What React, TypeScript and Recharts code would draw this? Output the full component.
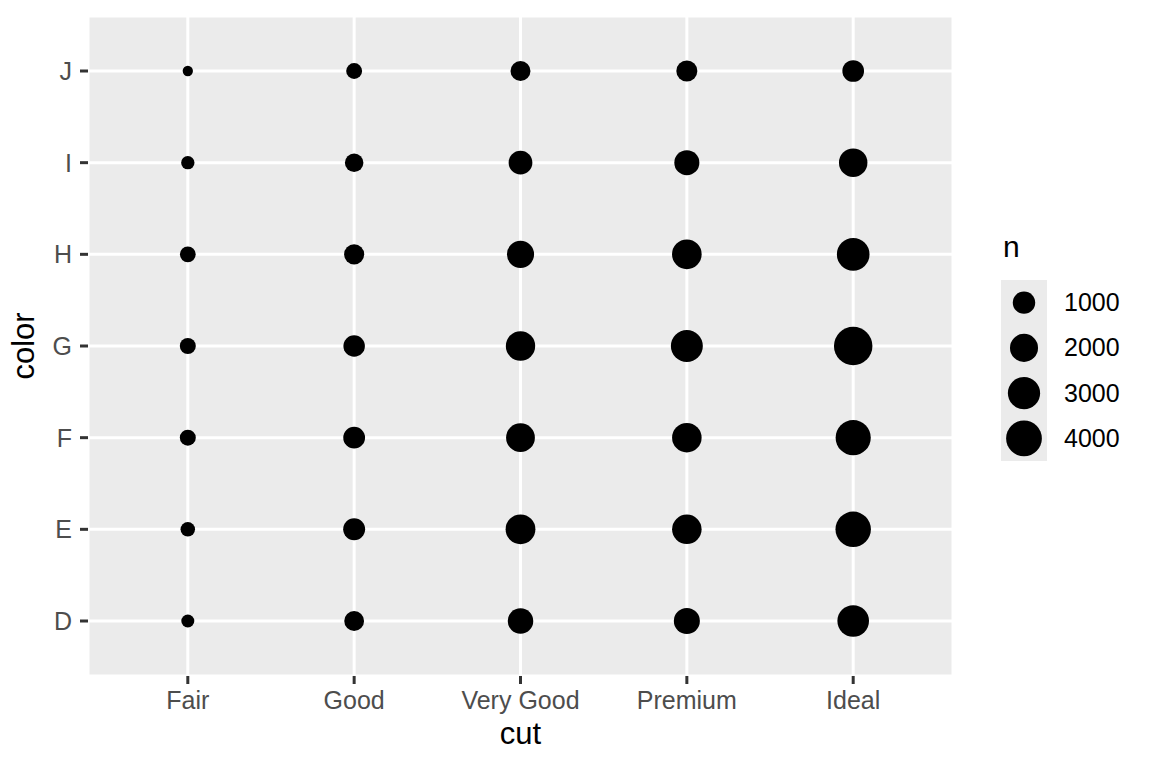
import React from "react";
import {
  ScatterChart,
  Scatter,
  XAxis,
  YAxis,
  CartesianGrid,
  Legend,
} from "recharts";

// diamonds: count of rows per cut x color
const cuts = ["Fair", "Good", "Very Good", "Premium", "Ideal"];
const colors = ["D", "E", "F", "G", "H", "I", "J"];

const fairCounts = [163, 224, 312, 314, 303, 175, 119];
const goodCounts = [662, 933, 909, 871, 702, 522, 307];
const veryGoodCounts = [1513, 2400, 2164, 2299, 1824, 1204, 678];
const premiumCounts = [1603, 2337, 2331, 2924, 2360, 1428, 808];
const idealCounts = [2834, 3903, 3826, 4884, 3115, 2093, 896];

const legendBreaks = [1000, 2000, 3000, 4000];

const countsByCut = [fairCounts, goodCounts, veryGoodCounts, premiumCounts, idealCounts];

const data = cuts.flatMap((cut, i) =>
  countsByCut[i].map((n, j) => ({ x: i + 1, y: j + 1, cut, color: colors[j], n }))
);

const allCounts = countsByCut.flat();
const nMin = Math.min(...allCounts);
const nMax = Math.max(...allCounts);

// ggplot-style area scale: radius grows with sqrt of rescaled count
const radius = (n: number) =>
  5.15 + 14.1 * Math.sqrt(Math.max(0, (n - nMin) / (nMax - nMin)));

const tickStyle = { fill: "#4D4D4D", fontSize: 25 };
const tickLineStyle = { stroke: "#333333", strokeWidth: 3 };

const Dot = (props: any) => {
  const { cx, cy, payload } = props;
  return <circle cx={cx} cy={cy} r={radius(payload.n)} fill="#000000" />;
};

const SizeLegend = () => (
  <svg width={160} height={240} style={{ overflow: "visible" }}>
    <text x={13} y={27} fontSize={30} fill="#000000">
      n
    </text>
    <rect x={11} y={50} width={46} height={181} fill="#EBEBEB" />
    {legendBreaks.map((b, i) => {
      const cy = 50 + 181 / 8 + (i * 181) / 4;
      return (
        <g key={b}>
          <circle cx={34} cy={cy} r={radius(b)} fill="#000000" />
          <text x={74} y={cy + 8.5} fontSize={25} fill="#000000">
            {b}
          </text>
        </g>
      );
    })}
  </svg>
);

export default function App() {
  return (
    <div
      style={{
        position: "absolute",
        left: 0,
        top: 0,
        width: 1152,
        height: 768,
        background: "#FFFFFF",
        fontFamily: "'Liberation Sans', Arial, sans-serif",
      }}
    >
      <ScatterChart
        width={1152}
        height={768}
        margin={{ top: 16, right: 199, bottom: 0, left: 0 }}
      >
        <CartesianGrid fill="#EBEBEB" stroke="#FFFFFF" strokeWidth={3} />
        <XAxis
          type="number"
          dataKey="x"
          domain={[0.4, 5.6]}
          ticks={[1, 2, 3, 4, 5]}
          interval={0}
          tickFormatter={(v: number) => cuts[v - 1]}
          height={92}
          tickSize={8}
          tickMargin={7}
          axisLine={false}
          tickLine={tickLineStyle}
          tick={tickStyle}
          label={{
            value: "cut",
            position: "insideBottom",
            offset: 24,
            fontSize: 31,
            fill: "#000000",
          }}
        />
        <YAxis
          type="number"
          dataKey="y"
          domain={[0.4, 7.6]}
          ticks={[1, 2, 3, 4, 5, 6, 7]}
          interval={0}
          tickFormatter={(v: number) => colors[v - 1]}
          width={88}
          tickSize={8}
          tickMargin={8}
          axisLine={false}
          tickLine={tickLineStyle}
          tick={tickStyle}
          label={{
            value: "color",
            angle: -90,
            position: "insideLeft",
            offset: 23,
            fontSize: 31,
            fill: "#000000",
            style: { textAnchor: "middle" },
          }}
        />
        <Legend
          align="center"
          verticalAlign="middle"
          layout="horizontal"
          wrapperStyle={{ left: 990, top: 230, width: 160, height: 240 }}
          content={() => <SizeLegend />}
        />
        <Scatter data={data} shape={<Dot />} isAnimationActive={false} />
      </ScatterChart>
    </div>
  );
}
